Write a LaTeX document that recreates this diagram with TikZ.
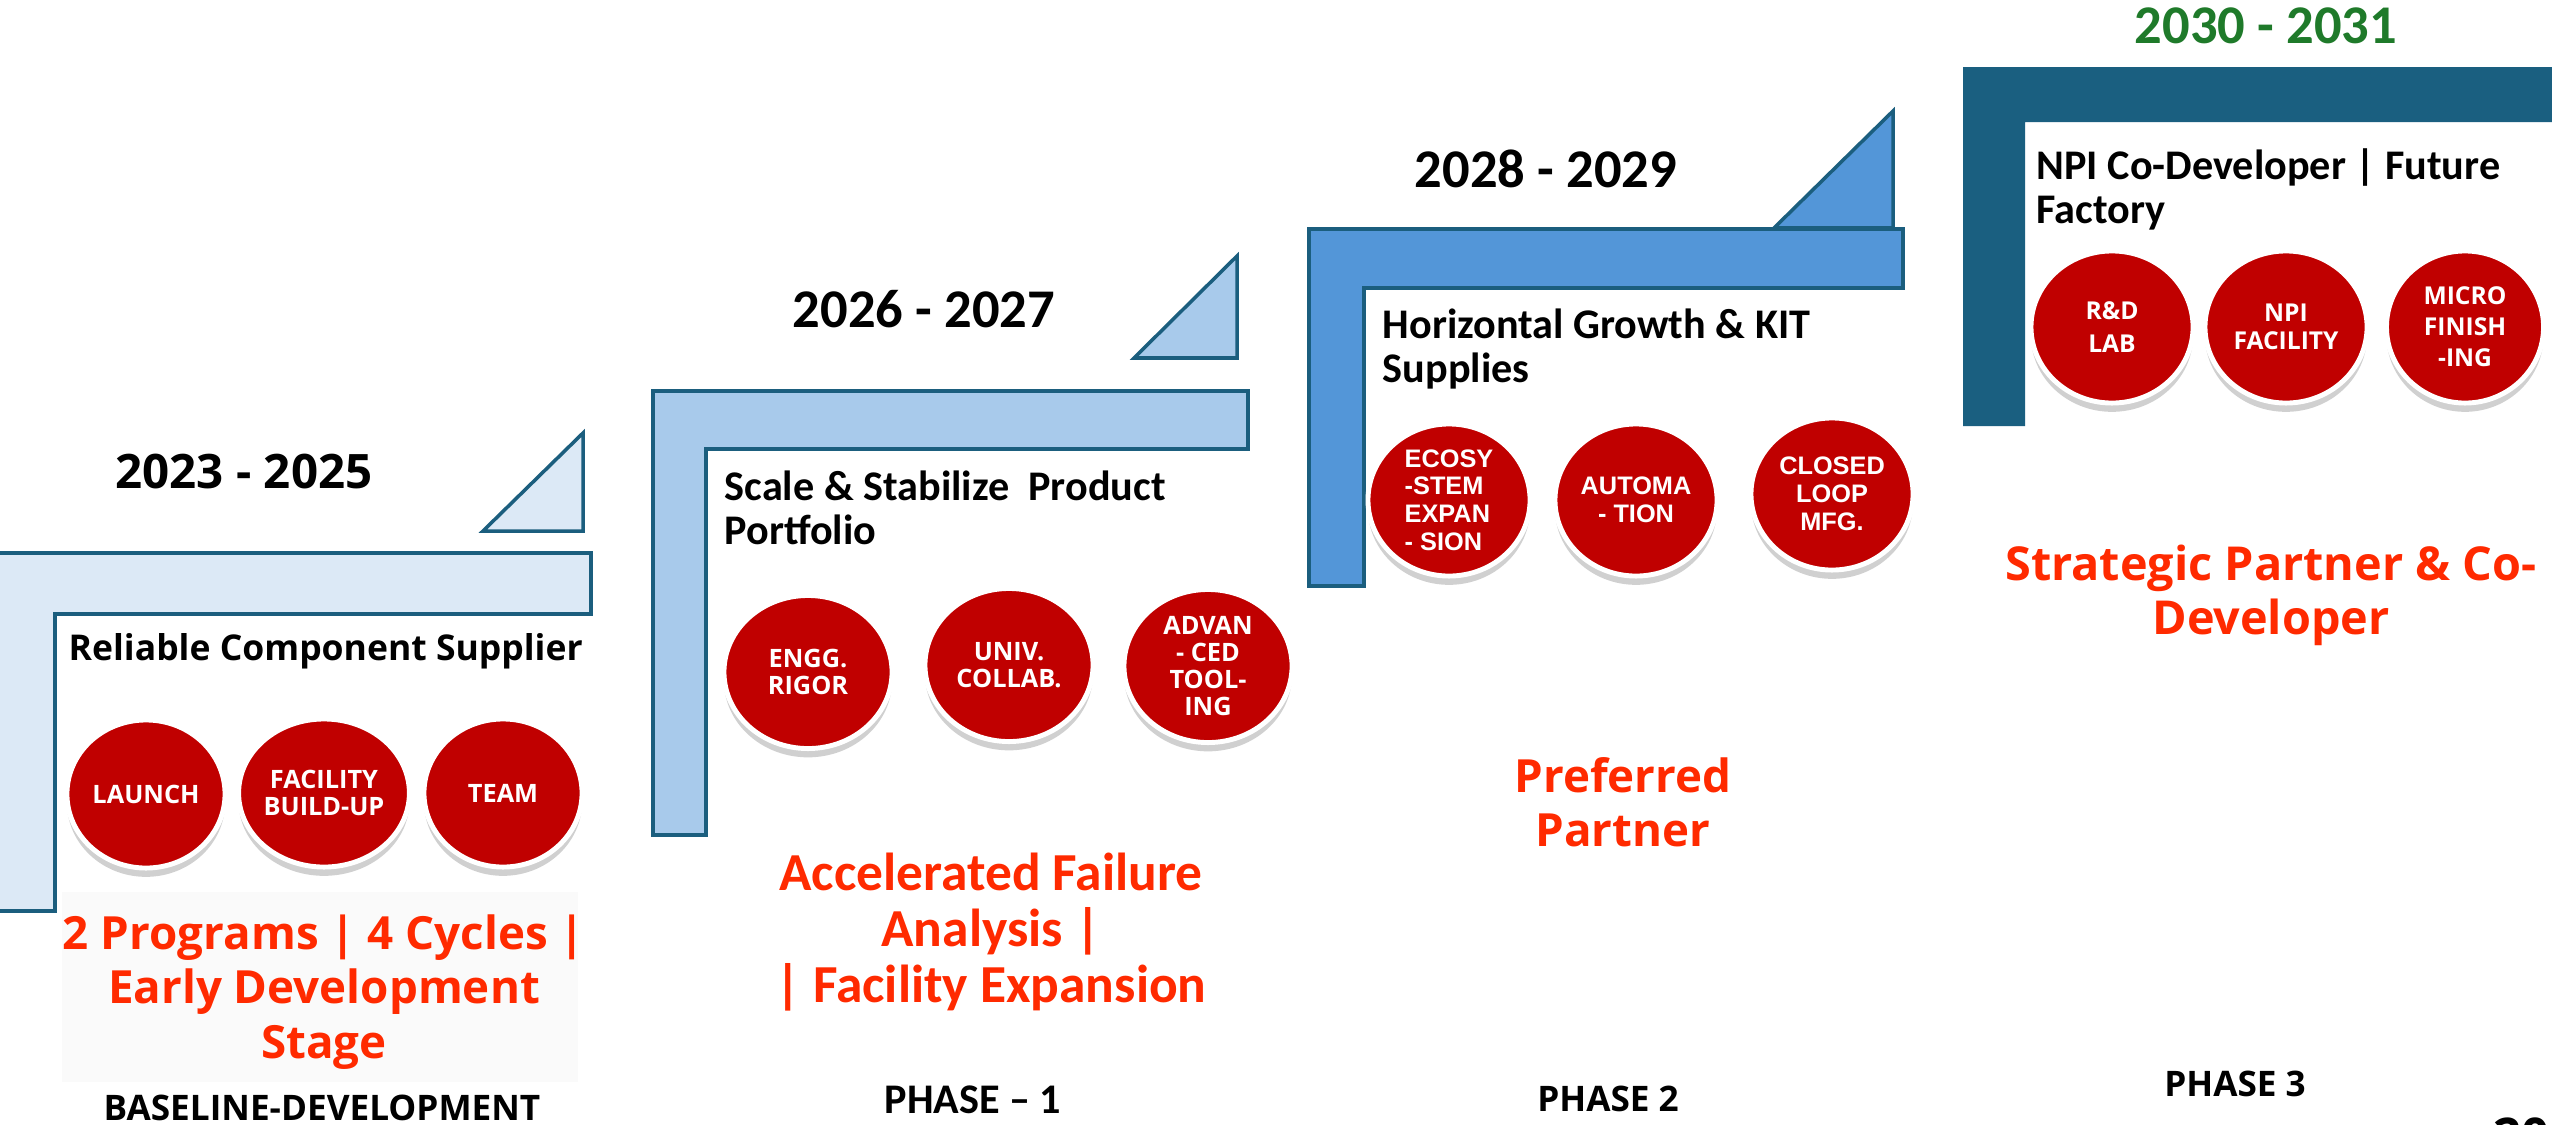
\documentclass[tikz,border=0pt]{standalone}
\usepackage{fontspec}
\setmainfont{Open Sans}
\newfontfamily\calfont{Carlito}
\newfontfamily\arifont{Liberation Sans}
\usetikzlibrary{shadows,shapes.geometric}

\definecolor{edgeblue}{HTML}{1B5E7E}
\definecolor{paleblue}{HTML}{DCE9F6}
\definecolor{lightblue}{HTML}{A8CAEB}
\definecolor{midblue}{HTML}{5396D8}
\definecolor{deepteal}{HTML}{1A5F80}
\definecolor{bubblered}{HTML}{C00000}
\definecolor{tagred}{HTML}{FF2A00}
\definecolor{yeargreen}{HTML}{1F7A2A}
\definecolor{softgray}{HTML}{FAFAFA}

\tikzset{
  stepone/.style={fill=paleblue, draw=edgeblue, line width=1pt},
  steptwo/.style={fill=lightblue, draw=edgeblue, line width=1pt},
  stepthree/.style={fill=midblue, draw=edgeblue, line width=1pt},
  stepfour/.style={fill=deepteal},
  bubble/.style={ellipse, fill=bubblered, draw=white, line width=1.4pt,
    minimum width=1.62cm, minimum height=1.52cm, inner sep=0pt, text=white, align=center,
    drop shadow={shadow xshift=0pt, shadow yshift=-2.5pt, opacity=0.3, fill=black!60}},
  segbubble/.style={bubble, font=\bfseries\fontsize{7.2}{7.7}\selectfont},
  aribubble/.style={bubble, font=\arifont\bfseries\fontsize{7.2}{7.9}\selectfont},
  segyear/.style={font=\bfseries\fontsize{13.5}{14}\selectfont, inner sep=0pt},
  calyear/.style={font=\calfont\bfseries\fontsize{15.5}{16}\selectfont, inner sep=0pt},
  segtitle/.style={font=\bfseries\fontsize{10.1}{12}\selectfont, inner sep=0pt, anchor=west},
  caltitle/.style={font=\calfont\bfseries\fontsize{12}{12.6}\selectfont, inner sep=0pt,
    anchor=north west, align=left},
  segtag/.style={font=\bfseries\fontsize{13}{15.4}\selectfont, text=tagred, align=center, inner sep=0pt},
  caltag/.style={font=\calfont\bfseries\fontsize{15.2}{16}\selectfont, text=tagred, align=center, inner sep=0pt},
  segphase/.style={font=\bfseries\fontsize{10}{12}\selectfont, inner sep=0pt},
  calphase/.style={font=\calfont\bfseries\fontsize{12}{12}\selectfont, inner sep=0pt}
}

\begin{document}
\begin{tikzpicture}[x=0.01cm, y=-0.01cm]

    \useasboundingbox[fill=white] (0,0) rectangle (2552,1124);

    % Step 1 -- baseline
    \fill[softgray] (62,892) rectangle (578,1082);
    \draw[stepone] (-10,553) -- (591,553) -- (591,614) -- (55,614) -- (55,911) -- (-10,911) -- cycle;
    \draw[stepone] (483,531) -- (583,531) -- (583,433) -- cycle;
    \node[segyear] (year1) at (244,472) {2023 - 2025};
    \node[segtitle] (title1) at (68,651) {Reliable Component Supplier};
    \node[segbubble, minimum width=1.58cm, minimum height=1.48cm] (launch) at (146,794) {LAUNCH};
    \node[segbubble, minimum width=1.58cm, minimum height=1.48cm] (buildup) at (324,793) {FACILITY\\BUILD-UP};
    \node[segbubble, minimum width=1.58cm, minimum height=1.48cm] (team) at (503,793) {TEAM};
    \node[segtag] (tag1) at (324,992) {2 Programs | 4 Cycles |\\Early Development\\Stage};
    \node[segphase] (phase0) at (322,1108) {BASELINE-DEVELOPMENT};

    % Step 2 -- phase 1
    \draw[steptwo] (653,391) -- (1248,391) -- (1248,449) -- (706,449) -- (706,835) -- (653,835) -- cycle;
    \draw[steptwo] (1134,358) -- (1237,358) -- (1237,256) -- cycle;
    \node[calyear] (year2) at (924,309) {2026 - 2027};
    \node[caltitle] (title2) at (724,470) {Scale \& Stabilize\ \ Product\\Portfolio};
    \node[segbubble, minimum width=1.68cm, minimum height=1.53cm] (rigor) at (808,672) {ENGG.\\RIGOR};
    \node[segbubble, minimum width=1.68cm, minimum height=1.53cm] (collab) at (1009,665) {UNIV.\\COLLAB.};
    \node[segbubble, minimum width=1.68cm, minimum height=1.53cm] (tooling) at (1208,666) {ADVAN\\- CED\\TOOL-\\ING};
    \node[caltag] (tag2) at (991,932) {Accelerated Failure\\Analysis |\\| Facility Expansion};
    \node[calphase] (phase1) at (973,1100) {PHASE – 1};

    % Step 3 -- phase 2
    \draw[stepthree] (1309,229) -- (1903,229) -- (1903,288) -- (1364,288) -- (1364,586) -- (1309,586) -- cycle;
    \draw[stepthree] (1774,228) -- (1893,228) -- (1893,111) -- cycle;
    \node[calyear] (year3) at (1546,169) {2028 - 2029};
    \node[caltitle] (title3) at (1382,308) {Horizontal Growth \& KIT\\Supplies};
    \node[aribubble, align=left] (ecosystem) at (1449,500) {ECOSY\\-STEM\\EXPAN\\- SION};
    \node[aribubble] (automation) at (1636,500) {AUTOMA\\- TION};
    \node[aribubble] (closedloop) at (1832,494) {CLOSED\\LOOP\\MFG.};
    \node[segtag] (tag3) at (1623,802) {Preferred\\Partner};
    \node[segphase] (phase2) at (1608,1099) {PHASE 2};

    % Step 4 -- phase 3
    \fill[stepfour] (1963,67) -- (2560,67) -- (2560,122) -- (2025,122) -- (2025,426) -- (1963,426) -- cycle;
    \node[calyear, text=yeargreen] (year4) at (2266,26) {2030 - 2031};
    \node[caltitle] (title4) at (2036,148) {NPI Co-Developer | Future\\Factory};
    \node[segbubble, font=\bfseries\fontsize{7}{9.6}\selectfont] (rdlab) at (2112,327) {R\&D\\LAB};
    \node[segbubble, font=\bfseries\fontsize{7}{7.8}\selectfont] (npifac) at (2286,327) {NPI\\FACILITY};
    \node[segbubble, font=\bfseries\fontsize{7}{8.8}\selectfont, minimum width=1.57cm] (microfin) at (2465,327) {MICRO\\FINISH\\-ING};
    \node[segtag, font=\bfseries\fontsize{13.3}{15.4}\selectfont] (tag4) at (2271,595) {Strategic Partner \& Co-\\Developer};
    \node[segphase] (phase3) at (2235,1084) {PHASE 3};

    % page number, cut by the page edge
    \node[anchor=north west, inner sep=0pt, font=\bfseries\fontsize{14}{14}\selectfont] (pagenum) at (2493,1117) {20};

\end{tikzpicture}
\end{document}
